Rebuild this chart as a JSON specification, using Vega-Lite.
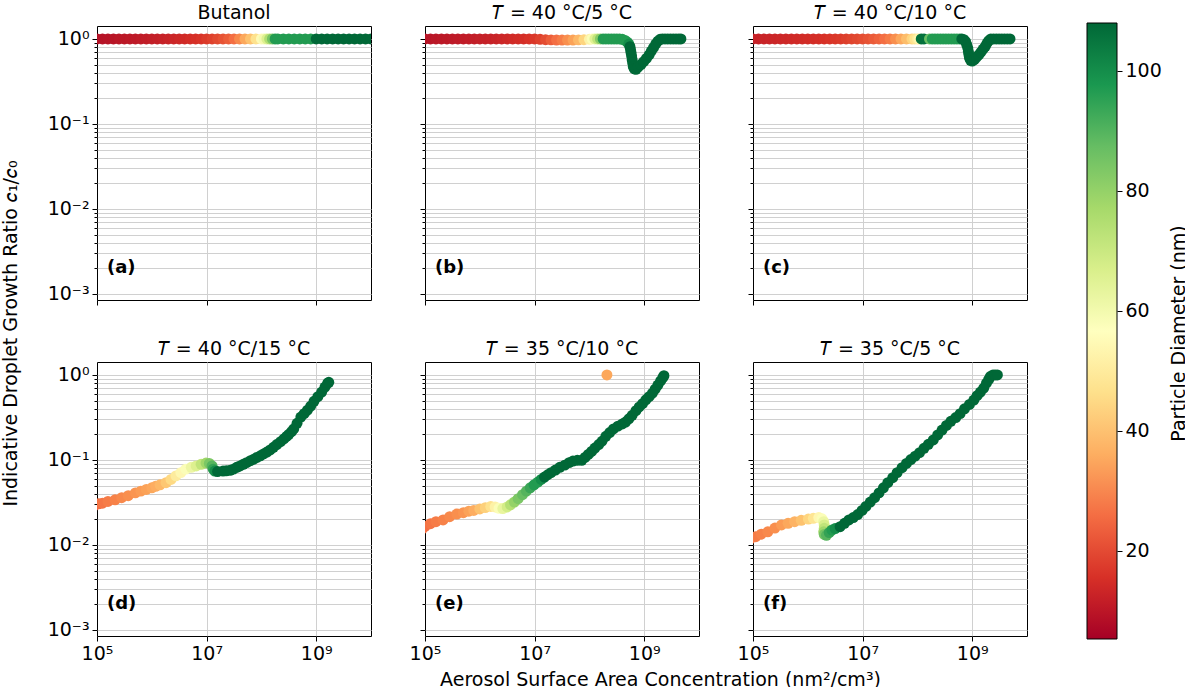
{
  "$schema": "https://vega.github.io/schema/vega-lite/v6.json",
  "padding": {"left": 0, "top": 0, "right": 0, "bottom": 0},
  "config": {
    "font": "DejaVu Sans",
    "view": {"stroke": "#000000", "strokeWidth": 1},
    "axis": {
      "domain": false,
      "grid": true,
      "gridColor": "#d0d0d0",
      "gridWidth": 1,
      "tickColor": "#000000",
      "tickWidth": 1,
      "labelFontSize": 19,
      "labelColor": "#000000",
      "labelPadding": 3,
      "labelOverlap": false,
      "labelFlush": false,
      "titleFontSize": 19,
      "titleFontWeight": "normal",
      "titleColor": "#000000"
    },
    "title": {"fontSize": 19, "fontWeight": "normal", "offset": 3, "color": "#000000", "frame": "group"}
  },
  "datasets": {
    "pts": [
      {"p":"a","x":7.943e4,"y":1,"d":8.5},{"p":"a","x":1e5,"y":1,"d":8.5},{"p":"a","x":1.259e5,"y":1,"d":8.7},{"p":"a","x":1.585e5,"y":1,"d":9},
      {"p":"a","x":1.995e5,"y":1,"d":9.2},{"p":"a","x":2.512e5,"y":1,"d":9.5},{"p":"a","x":3.162e5,"y":1,"d":9.8},{"p":"a","x":3.981e5,"y":1,"d":10},
      {"p":"a","x":5.012e5,"y":1,"d":10.3},{"p":"a","x":6.31e5,"y":1,"d":10.6},{"p":"a","x":7.943e5,"y":1,"d":11},{"p":"a","x":1e6,"y":1,"d":11.3},
      {"p":"a","x":1.259e6,"y":1,"d":11.7},{"p":"a","x":1.585e6,"y":1,"d":12},{"p":"a","x":1.995e6,"y":1,"d":12.5},{"p":"a","x":2.512e6,"y":1,"d":13},
      {"p":"a","x":3.162e6,"y":1,"d":13.5},{"p":"a","x":3.981e6,"y":1,"d":14},{"p":"a","x":5.012e6,"y":1,"d":14.7},{"p":"a","x":6.31e6,"y":1,"d":15.3},
      {"p":"a","x":7.943e6,"y":1,"d":16},{"p":"a","x":1e7,"y":1,"d":17},{"p":"a","x":1.259e7,"y":1,"d":18},{"p":"a","x":1.585e7,"y":1,"d":19.5},
      {"p":"a","x":1.995e7,"y":1,"d":21},{"p":"a","x":2.512e7,"y":1,"d":23},{"p":"a","x":3.162e7,"y":1,"d":26},{"p":"a","x":3.981e7,"y":1,"d":30},
      {"p":"a","x":5.012e7,"y":1,"d":35},{"p":"a","x":6.31e7,"y":1,"d":40},{"p":"a","x":7.943e7,"y":1,"d":47},{"p":"a","x":1e8,"y":1,"d":55},
      {"p":"a","x":1.122e8,"y":1,"d":60},{"p":"a","x":1.259e8,"y":1,"d":66},{"p":"a","x":1.413e8,"y":1,"d":75},{"p":"a","x":1.585e8,"y":1,"d":85},
      {"p":"a","x":1.778e8,"y":1,"d":97},{"p":"a","x":1.995e8,"y":1,"d":97},{"p":"a","x":2.512e8,"y":1,"d":97},{"p":"a","x":3.162e8,"y":1,"d":97},
      {"p":"a","x":3.981e8,"y":1,"d":97},{"p":"a","x":5.012e8,"y":1,"d":97},{"p":"a","x":6.31e8,"y":1,"d":97},{"p":"a","x":7.943e8,"y":1,"d":97},
      {"p":"a","x":1e9,"y":1,"d":108},{"p":"a","x":1.259e9,"y":1,"d":108},{"p":"a","x":1.585e9,"y":1,"d":108},{"p":"a","x":1.995e9,"y":1,"d":108},
      {"p":"a","x":2.512e9,"y":1,"d":108},{"p":"a","x":3.162e9,"y":1,"d":108},{"p":"a","x":3.981e9,"y":1,"d":108},{"p":"a","x":5.012e9,"y":1,"d":108},
      {"p":"a","x":6.31e9,"y":1,"d":108},{"p":"a","x":7.943e9,"y":1,"d":108},{"p":"a","x":1e10,"y":1,"d":108},{"p":"a","x":1.259e10,"y":1,"d":108},

      {"p":"b","x":7.943e4,"y":1,"d":9},{"p":"b","x":1e5,"y":1,"d":9},{"p":"b","x":1.259e5,"y":1,"d":9.2},{"p":"b","x":1.585e5,"y":1,"d":9.5},
      {"p":"b","x":1.995e5,"y":1,"d":9.7},{"p":"b","x":2.512e5,"y":1,"d":10},{"p":"b","x":3.162e5,"y":1,"d":10.2},{"p":"b","x":3.981e5,"y":1,"d":10.5},
      {"p":"b","x":5.012e5,"y":1,"d":10.7},{"p":"b","x":6.31e5,"y":1,"d":11},{"p":"b","x":7.943e5,"y":1,"d":11.2},{"p":"b","x":1e6,"y":1,"d":11.5},
      {"p":"b","x":1.259e6,"y":1,"d":11.8},{"p":"b","x":1.585e6,"y":1,"d":12},{"p":"b","x":1.995e6,"y":1,"d":12.5},{"p":"b","x":2.512e6,"y":1,"d":13},
      {"p":"b","x":3.162e6,"y":1,"d":13.5},{"p":"b","x":3.981e6,"y":1,"d":14},{"p":"b","x":5.012e6,"y":1,"d":14.5},{"p":"b","x":6.31e6,"y":1,"d":15},
      {"p":"b","x":7.943e6,"y":1,"d":15.8},{"p":"b","x":1e7,"y":1,"d":16.5},{"p":"b","x":1.259e7,"y":0.99,"d":18},{"p":"b","x":1.585e7,"y":0.98,"d":20},
      {"p":"b","x":1.995e7,"y":0.975,"d":23},{"p":"b","x":2.512e7,"y":0.97,"d":26},{"p":"b","x":3.162e7,"y":0.97,"d":28},{"p":"b","x":3.981e7,"y":0.97,"d":31},
      {"p":"b","x":5.012e7,"y":0.97,"d":34},{"p":"b","x":6.31e7,"y":0.975,"d":38},{"p":"b","x":7.943e7,"y":0.98,"d":44},{"p":"b","x":1e8,"y":0.99,"d":52},
      {"p":"b","x":1.122e8,"y":1,"d":58},{"p":"b","x":1.259e8,"y":1,"d":65},{"p":"b","x":1.413e8,"y":1,"d":72},{"p":"b","x":1.585e8,"y":1,"d":82},
      {"p":"b","x":1.778e8,"y":1,"d":97},{"p":"b","x":1.995e8,"y":1,"d":97},{"p":"b","x":2.239e8,"y":1,"d":97},{"p":"b","x":2.512e8,"y":1,"d":97},
      {"p":"b","x":2.818e8,"y":1,"d":97},{"p":"b","x":3.162e8,"y":1,"d":97},{"p":"b","x":3.548e8,"y":1,"d":97},{"p":"b","x":3.981e8,"y":0.99,"d":97},
      {"p":"b","x":4.467e8,"y":0.96,"d":97},{"p":"b","x":4.898e8,"y":0.92,"d":97},{"p":"b","x":5.248e8,"y":0.87,"d":100},{"p":"b","x":5.495e8,"y":0.81,"d":108},
      {"p":"b","x":5.623e8,"y":0.75,"d":108},{"p":"b","x":5.754e8,"y":0.69,"d":108},{"p":"b","x":5.888e8,"y":0.63,"d":108},{"p":"b","x":6.026e8,"y":0.57,"d":108},
      {"p":"b","x":6.166e8,"y":0.52,"d":108},{"p":"b","x":6.31e8,"y":0.475,"d":108},{"p":"b","x":6.607e8,"y":0.445,"d":108},{"p":"b","x":7.079e8,"y":0.44,"d":108},
      {"p":"b","x":7.762e8,"y":0.465,"d":108},{"p":"b","x":8.71e8,"y":0.5,"d":108},{"p":"b","x":9.772e8,"y":0.54,"d":108},{"p":"b","x":1.096e9,"y":0.59,"d":108},
      {"p":"b","x":1.23e9,"y":0.65,"d":108},{"p":"b","x":1.349e9,"y":0.72,"d":108},{"p":"b","x":1.479e9,"y":0.79,"d":108},{"p":"b","x":1.622e9,"y":0.87,"d":108},
      {"p":"b","x":1.778e9,"y":0.94,"d":108},{"p":"b","x":1.95e9,"y":0.99,"d":108},{"p":"b","x":2.138e9,"y":1,"d":108},{"p":"b","x":2.399e9,"y":1,"d":108},
      {"p":"b","x":2.692e9,"y":1,"d":108},{"p":"b","x":3.02e9,"y":1,"d":108},{"p":"b","x":3.388e9,"y":1,"d":108},{"p":"b","x":3.802e9,"y":1,"d":108},
      {"p":"b","x":4.266e9,"y":1,"d":108},{"p":"b","x":4.677e9,"y":1,"d":108},

      {"p":"c","x":7.943e4,"y":1,"d":12},{"p":"c","x":1e5,"y":1,"d":12},{"p":"c","x":1.259e5,"y":1,"d":12.2},{"p":"c","x":1.585e5,"y":1,"d":12.5},
      {"p":"c","x":1.995e5,"y":1,"d":12.7},{"p":"c","x":2.512e5,"y":1,"d":13},{"p":"c","x":3.162e5,"y":1,"d":13.2},{"p":"c","x":3.981e5,"y":1,"d":13.5},
      {"p":"c","x":5.012e5,"y":1,"d":13.7},{"p":"c","x":6.31e5,"y":1,"d":14},{"p":"c","x":7.943e5,"y":1,"d":14.2},{"p":"c","x":1e6,"y":1,"d":14.5},
      {"p":"c","x":1.259e6,"y":1,"d":14.8},{"p":"c","x":1.585e6,"y":1,"d":15},{"p":"c","x":1.995e6,"y":1,"d":15.5},{"p":"c","x":2.512e6,"y":1,"d":16},
      {"p":"c","x":3.162e6,"y":1,"d":16.5},{"p":"c","x":3.981e6,"y":1,"d":17},{"p":"c","x":5.012e6,"y":1,"d":17.7},{"p":"c","x":6.31e6,"y":1,"d":18.5},
      {"p":"c","x":7.943e6,"y":1,"d":19.2},{"p":"c","x":1e7,"y":1,"d":20},{"p":"c","x":1.259e7,"y":1,"d":21},{"p":"c","x":1.585e7,"y":1,"d":22.5},
      {"p":"c","x":1.995e7,"y":1,"d":24},{"p":"c","x":2.512e7,"y":1,"d":26},{"p":"c","x":3.162e7,"y":1,"d":28},{"p":"c","x":3.981e7,"y":1,"d":31},
      {"p":"c","x":5.012e7,"y":1,"d":35},{"p":"c","x":6.31e7,"y":1,"d":39},{"p":"c","x":7.943e7,"y":1,"d":44},{"p":"c","x":8.913e7,"y":1,"d":47},
      {"p":"c","x":1e8,"y":1,"d":50},{"p":"c","x":1.072e8,"y":1,"d":53},{"p":"c","x":1.175e8,"y":1,"d":106},{"p":"c","x":1.318e8,"y":1,"d":106},
      {"p":"c","x":1.66e8,"y":1,"d":87},{"p":"c","x":1.862e8,"y":1,"d":97},{"p":"c","x":2.089e8,"y":1,"d":97},{"p":"c","x":2.344e8,"y":1,"d":97},
      {"p":"c","x":2.63e8,"y":1,"d":97},{"p":"c","x":2.951e8,"y":1,"d":97},{"p":"c","x":3.311e8,"y":1,"d":97},{"p":"c","x":3.715e8,"y":1,"d":97},
      {"p":"c","x":4.169e8,"y":1,"d":97},{"p":"c","x":4.677e8,"y":1,"d":97},{"p":"c","x":5.248e8,"y":1,"d":97},{"p":"c","x":5.888e8,"y":1,"d":97},
      {"p":"c","x":6.457e8,"y":1,"d":108},{"p":"c","x":7.079e8,"y":0.98,"d":108},{"p":"c","x":7.586e8,"y":0.93,"d":108},{"p":"c","x":7.943e8,"y":0.86,"d":108},
      {"p":"c","x":8.318e8,"y":0.78,"d":108},{"p":"c","x":8.511e8,"y":0.71,"d":108},{"p":"c","x":8.71e8,"y":0.65,"d":108},{"p":"c","x":8.913e8,"y":0.6,"d":108},
      {"p":"c","x":9.333e8,"y":0.56,"d":108},{"p":"c","x":1e9,"y":0.55,"d":108},{"p":"c","x":1.096e9,"y":0.57,"d":108},{"p":"c","x":1.202e9,"y":0.61,"d":108},
      {"p":"c","x":1.318e9,"y":0.65,"d":108},{"p":"c","x":1.445e9,"y":0.7,"d":108},{"p":"c","x":1.585e9,"y":0.76,"d":108},{"p":"c","x":1.738e9,"y":0.82,"d":108},
      {"p":"c","x":1.862e9,"y":0.89,"d":108},{"p":"c","x":1.995e9,"y":0.95,"d":108},{"p":"c","x":2.188e9,"y":1,"d":108},{"p":"c","x":2.455e9,"y":1,"d":108},
      {"p":"c","x":2.754e9,"y":1,"d":108},{"p":"c","x":3.09e9,"y":1,"d":108},{"p":"c","x":3.467e9,"y":1,"d":108},{"p":"c","x":3.89e9,"y":1,"d":108},
      {"p":"c","x":4.365e9,"y":1,"d":108},{"p":"c","x":4.898e9,"y":1,"d":108},

      {"p":"d","x":8.913e4,"y":0.029,"d":25},{"p":"d","x":1.072e5,"y":0.0305,"d":26},{"p":"d","x":1.259e5,"y":0.031,"d":27},{"p":"d","x":1.585e5,"y":0.0325,"d":28},
      {"p":"d","x":2.138e5,"y":0.034,"d":29},{"p":"d","x":2.818e5,"y":0.036,"d":30},{"p":"d","x":3.715e5,"y":0.038,"d":31},{"p":"d","x":5.012e5,"y":0.041,"d":32},
      {"p":"d","x":6.31e5,"y":0.043,"d":33},{"p":"d","x":7.943e5,"y":0.045,"d":34},{"p":"d","x":1e6,"y":0.047,"d":35},{"p":"d","x":1.175e6,"y":0.049,"d":36},
      {"p":"d","x":1.413e6,"y":0.051,"d":38},{"p":"d","x":1.82e6,"y":0.054,"d":41},{"p":"d","x":2.239e6,"y":0.059,"d":45},{"p":"d","x":2.754e6,"y":0.065,"d":50},
      {"p":"d","x":3.388e6,"y":0.071,"d":54},{"p":"d","x":4.169e6,"y":0.078,"d":58},{"p":"d","x":5.248e6,"y":0.082,"d":62},{"p":"d","x":6.457e6,"y":0.085,"d":66},
      {"p":"d","x":7.943e6,"y":0.089,"d":72},{"p":"d","x":9.772e6,"y":0.092,"d":78},{"p":"d","x":1.122e7,"y":0.091,"d":84},{"p":"d","x":1.259e7,"y":0.085,"d":90},
      {"p":"d","x":1.318e7,"y":0.078,"d":95},{"p":"d","x":1.413e7,"y":0.074,"d":100},{"p":"d","x":1.585e7,"y":0.073,"d":108},{"p":"d","x":1.995e7,"y":0.074,"d":108},
      {"p":"d","x":2.291e7,"y":0.0745,"d":108},{"p":"d","x":2.692e7,"y":0.0755,"d":108},{"p":"d","x":3.09e7,"y":0.078,"d":108},{"p":"d","x":3.548e7,"y":0.082,"d":108},
      {"p":"d","x":4.074e7,"y":0.085,"d":108},{"p":"d","x":4.677e7,"y":0.089,"d":108},{"p":"d","x":5.37e7,"y":0.093,"d":108},{"p":"d","x":6.31e7,"y":0.098,"d":108},
      {"p":"d","x":7.244e7,"y":0.102,"d":108},{"p":"d","x":8.318e7,"y":0.107,"d":108},{"p":"d","x":9.55e7,"y":0.112,"d":108},{"p":"d","x":1.096e8,"y":0.118,"d":108},
      {"p":"d","x":1.259e8,"y":0.124,"d":108},{"p":"d","x":1.445e8,"y":0.131,"d":108},{"p":"d","x":1.66e8,"y":0.141,"d":108},{"p":"d","x":1.905e8,"y":0.152,"d":108},
      {"p":"d","x":2.239e8,"y":0.164,"d":108},{"p":"d","x":2.57e8,"y":0.177,"d":108},{"p":"d","x":2.884e8,"y":0.189,"d":108},{"p":"d","x":3.162e8,"y":0.2,"d":108},
      {"p":"d","x":3.548e8,"y":0.215,"d":108},{"p":"d","x":3.89e8,"y":0.232,"d":108},{"p":"d","x":4.467e8,"y":0.27,"d":108},{"p":"d","x":5.248e8,"y":0.32,"d":108},
      {"p":"d","x":6.026e8,"y":0.35,"d":108},{"p":"d","x":6.918e8,"y":0.385,"d":108},{"p":"d","x":7.943e8,"y":0.43,"d":108},{"p":"d","x":9.12e8,"y":0.49,"d":108},
      {"p":"d","x":1.072e9,"y":0.555,"d":108},{"p":"d","x":1.259e9,"y":0.63,"d":108},{"p":"d","x":1.445e9,"y":0.72,"d":108},{"p":"d","x":1.622e9,"y":0.8,"d":108},
      {"p":"d","x":1.698e9,"y":0.82,"d":108},

      {"p":"e","x":8.913e4,"y":0.0155,"d":26},{"p":"e","x":1e5,"y":0.0165,"d":26},{"p":"e","x":1.259e5,"y":0.0178,"d":27},{"p":"e","x":1.585e5,"y":0.0188,"d":28},
      {"p":"e","x":2.138e5,"y":0.0197,"d":29},{"p":"e","x":2.818e5,"y":0.0215,"d":30},{"p":"e","x":3.802e5,"y":0.0231,"d":31},{"p":"e","x":5.012e5,"y":0.024,"d":32},
      {"p":"e","x":6.31e5,"y":0.025,"d":34},{"p":"e","x":7.762e5,"y":0.0255,"d":36},{"p":"e","x":1e6,"y":0.0265,"d":40},{"p":"e","x":1.259e6,"y":0.0275,"d":43},
      {"p":"e","x":1.585e6,"y":0.0284,"d":47},{"p":"e","x":1.905e6,"y":0.028,"d":52},{"p":"e","x":2.239e6,"y":0.027,"d":58},{"p":"e","x":2.63e6,"y":0.0268,"d":63},
      {"p":"e","x":3.162e6,"y":0.028,"d":68},{"p":"e","x":3.631e6,"y":0.0297,"d":74},{"p":"e","x":4.266e6,"y":0.032,"d":80},{"p":"e","x":5.012e6,"y":0.035,"d":84},
      {"p":"e","x":6.026e6,"y":0.039,"d":87},{"p":"e","x":7.079e6,"y":0.043,"d":90},{"p":"e","x":8.318e6,"y":0.047,"d":94},{"p":"e","x":9.772e6,"y":0.051,"d":97},
      {"p":"e","x":1.148e7,"y":0.055,"d":97},{"p":"e","x":1.318e7,"y":0.059,"d":100},{"p":"e","x":1.514e7,"y":0.063,"d":108},{"p":"e","x":1.738e7,"y":0.067,"d":108},
      {"p":"e","x":1.995e7,"y":0.071,"d":108},{"p":"e","x":2.399e7,"y":0.076,"d":108},{"p":"e","x":2.884e7,"y":0.082,"d":108},{"p":"e","x":3.548e7,"y":0.087,"d":108},
      {"p":"e","x":4.266e7,"y":0.093,"d":108},{"p":"e","x":5.012e7,"y":0.097,"d":108},{"p":"e","x":6.026e7,"y":0.099,"d":108},{"p":"e","x":7.244e7,"y":0.099,"d":108},
      {"p":"e","x":8.318e7,"y":0.107,"d":108},{"p":"e","x":9.55e7,"y":0.116,"d":108},{"p":"e","x":1.096e8,"y":0.126,"d":108},{"p":"e","x":1.259e8,"y":0.138,"d":108},
      {"p":"e","x":1.479e8,"y":0.152,"d":108},{"p":"e","x":1.698e8,"y":0.166,"d":108},{"p":"e","x":1.995e8,"y":0.19,"d":108},{"p":"e","x":2.344e8,"y":0.21,"d":108},
      {"p":"e","x":2.754e8,"y":0.232,"d":108},{"p":"e","x":3.311e8,"y":0.25,"d":108},{"p":"e","x":3.981e8,"y":0.265,"d":108},{"p":"e","x":4.571e8,"y":0.279,"d":108},
      {"p":"e","x":5.248e8,"y":0.305,"d":108},{"p":"e","x":6.026e8,"y":0.335,"d":108},{"p":"e","x":7.079e8,"y":0.38,"d":108},{"p":"e","x":8.128e8,"y":0.42,"d":108},
      {"p":"e","x":9.333e8,"y":0.46,"d":108},{"p":"e","x":1.072e9,"y":0.51,"d":108},{"p":"e","x":1.23e9,"y":0.555,"d":108},{"p":"e","x":1.413e9,"y":0.61,"d":108},
      {"p":"e","x":1.585e9,"y":0.68,"d":108},{"p":"e","x":1.778e9,"y":0.76,"d":108},{"p":"e","x":1.995e9,"y":0.85,"d":108},{"p":"e","x":2.188e9,"y":0.93,"d":108},
      {"p":"e","x":2.291e9,"y":0.98,"d":108},{"p":"e","x":2.089e8,"y":1,"d":35},

      {"p":"f","x":8.913e4,"y":0.0118,"d":27},{"p":"f","x":1.122e5,"y":0.0125,"d":28},{"p":"f","x":1.413e5,"y":0.0134,"d":29},{"p":"f","x":1.862e5,"y":0.0143,"d":30},
      {"p":"f","x":2.512e5,"y":0.0158,"d":31},{"p":"f","x":3.311e5,"y":0.0172,"d":33},{"p":"f","x":4.365e5,"y":0.018,"d":35},{"p":"f","x":5.754e5,"y":0.0188,"d":37},
      {"p":"f","x":7.586e5,"y":0.0195,"d":40},{"p":"f","x":1.023e6,"y":0.0202,"d":44},{"p":"f","x":1.259e6,"y":0.0206,"d":48},{"p":"f","x":1.585e6,"y":0.021,"d":54},
      {"p":"f","x":1.82e6,"y":0.0203,"d":58},{"p":"f","x":1.95e6,"y":0.0188,"d":62},{"p":"f","x":1.995e6,"y":0.0172,"d":67},{"p":"f","x":1.995e6,"y":0.0157,"d":72},
      {"p":"f","x":1.95e6,"y":0.0143,"d":78},{"p":"f","x":1.995e6,"y":0.0133,"d":85},{"p":"f","x":2.188e6,"y":0.013,"d":90},{"p":"f","x":2.455e6,"y":0.014,"d":95},
      {"p":"f","x":2.754e6,"y":0.015,"d":97},{"p":"f","x":3.162e6,"y":0.0156,"d":100},{"p":"f","x":3.89e6,"y":0.0164,"d":108},{"p":"f","x":4.677e6,"y":0.018,"d":108},
      {"p":"f","x":5.623e6,"y":0.0197,"d":108},{"p":"f","x":6.761e6,"y":0.021,"d":108},{"p":"f","x":8.128e6,"y":0.0228,"d":108},{"p":"f","x":9.772e6,"y":0.0255,"d":108},
      {"p":"f","x":1.148e7,"y":0.0284,"d":108},{"p":"f","x":1.38e7,"y":0.032,"d":108},{"p":"f","x":1.66e7,"y":0.036,"d":108},{"p":"f","x":1.995e7,"y":0.041,"d":108},
      {"p":"f","x":2.399e7,"y":0.047,"d":108},{"p":"f","x":2.884e7,"y":0.054,"d":108},{"p":"f","x":3.548e7,"y":0.0618,"d":108},{"p":"f","x":4.266e7,"y":0.071,"d":108},
      {"p":"f","x":5.248e7,"y":0.081,"d":108},{"p":"f","x":6.31e7,"y":0.091,"d":108},{"p":"f","x":7.586e7,"y":0.101,"d":108},{"p":"f","x":9.12e7,"y":0.111,"d":108},
      {"p":"f","x":1.096e8,"y":0.122,"d":108},{"p":"f","x":1.318e8,"y":0.137,"d":108},{"p":"f","x":1.585e8,"y":0.153,"d":108},{"p":"f","x":1.95e8,"y":0.172,"d":108},
      {"p":"f","x":2.344e8,"y":0.197,"d":108},{"p":"f","x":2.818e8,"y":0.225,"d":108},{"p":"f","x":3.388e8,"y":0.255,"d":108},{"p":"f","x":4.074e8,"y":0.285,"d":108},
      {"p":"f","x":5.012e8,"y":0.315,"d":108},{"p":"f","x":6.026e8,"y":0.351,"d":108},{"p":"f","x":7.244e8,"y":0.4,"d":108},{"p":"f","x":8.913e8,"y":0.45,"d":108},
      {"p":"f","x":1.072e9,"y":0.506,"d":108},{"p":"f","x":1.23e9,"y":0.57,"d":108},{"p":"f","x":1.413e9,"y":0.63,"d":108},{"p":"f","x":1.622e9,"y":0.7,"d":108},
      {"p":"f","x":1.82e9,"y":0.8,"d":108},{"p":"f","x":1.995e9,"y":0.88,"d":108},{"p":"f","x":2.138e9,"y":0.957,"d":108},{"p":"f","x":2.399e9,"y":1,"d":108},
      {"p":"f","x":2.63e9,"y":1,"d":108},{"p":"f","x":2.884e9,"y":1,"d":108}
    ]
  },
  "spacing": 58,
  "hconcat": [
    {
      "columns": 3,
      "spacing": {"row": 62, "column": 54},
      "bounds": "flush",
      "resolve": {"scale": {"color": "shared"}},
      "concat": [
        {
          "title": "Butanol",
          "width": 274, "height": 274,
          "encoding": {
            "x": {"field": "x", "type": "quantitative", "scale": {"type": "log", "domain": [100000, 10000000000], "nice": false},
              "axis": {"values": [100000, 10000000, 1000000000], "labels": false, "tickSize": 5, "title": null,
                "gridOpacity": {"condition": {"test": "datum.value < 200000", "value": 0}, "value": 1}}},
            "y": {"field": "y", "type": "quantitative", "scale": {"type": "log", "domain": [0.00085, 1.42], "nice": false},
              "axis": {"values": [0.001,0.002,0.003,0.004,0.005,0.006,0.007,0.008,0.009,0.01,0.02,0.03,0.04,0.05,0.06,0.07,0.08,0.09,0.1,0.2,0.3,0.4,0.5,0.6,0.7,0.8,0.9,1],
                "labelExpr": "datum.value == 1 ? '10⁰' : datum.value == 0.1 ? '10⁻¹' : datum.value == 0.01 ? '10⁻²' : datum.value == 0.001 ? '10⁻³' : ''",
                "tickSize": {"condition": {"test": "datum.value == 1 || datum.value == 0.1 || datum.value == 0.01 || datum.value == 0.001", "value": 5}, "value": 3},
                "title": "Indicative Droplet Growth Ratio 𝑐₁/𝑐₀", "titleX": -77, "titleY": 307, "titleAngle": 270, "titleAlign": "center", "titleBaseline": "bottom"}}
          },
          "layer": [
            {"data": {"name": "pts"}, "transform": [{"filter": "datum.p == 'a'"}],
              "mark": {"type": "circle", "size": 120, "opacity": 1, "clip": true},
              "encoding": {"color": {"field": "d", "type": "quantitative", "legend": null,
                "scale": {"domain": [5.3, 15.57, 25.84, 36.11, 46.38, 56.65, 66.92, 77.19, 87.46, 97.73, 108], "range": ["#a50026", "#d73027", "#f46d43", "#fdae61", "#fee08b", "#ffffbf", "#d9ef8b", "#a6d96a", "#66bd63", "#1a9850", "#006837"]}}}},
            {"data": {"values": [{"x": 152000, "y": 0.002, "t": "(a)"}]},
              "mark": {"type": "text", "align": "left", "baseline": "middle", "fontSize": 18, "fontWeight": "bold", "color": "#000000"},
              "encoding": {"text": {"field": "t"}}}
          ]
        },
        {
          "title": "𝑇 = 40 °C/5 °C",
          "width": 274, "height": 274,
          "encoding": {
            "x": {"field": "x", "type": "quantitative", "scale": {"type": "log", "domain": [100000, 10000000000], "nice": false},
              "axis": {"values": [100000, 10000000, 1000000000], "labels": false, "tickSize": 5, "title": null,
                "gridOpacity": {"condition": {"test": "datum.value < 200000", "value": 0}, "value": 1}}},
            "y": {"field": "y", "type": "quantitative", "scale": {"type": "log", "domain": [0.00085, 1.42], "nice": false},
              "axis": {"values": [0.001,0.002,0.003,0.004,0.005,0.006,0.007,0.008,0.009,0.01,0.02,0.03,0.04,0.05,0.06,0.07,0.08,0.09,0.1,0.2,0.3,0.4,0.5,0.6,0.7,0.8,0.9,1],
                "labels": false,
                "tickSize": {"condition": {"test": "datum.value == 1 || datum.value == 0.1 || datum.value == 0.01 || datum.value == 0.001", "value": 5}, "value": 3},
                "title": null}}
          },
          "layer": [
            {"data": {"name": "pts"}, "transform": [{"filter": "datum.p == 'b'"}],
              "mark": {"type": "circle", "size": 120, "opacity": 1, "clip": true},
              "encoding": {"color": {"field": "d", "type": "quantitative", "legend": null,
                "scale": {"domain": [5.3, 15.57, 25.84, 36.11, 46.38, 56.65, 66.92, 77.19, 87.46, 97.73, 108], "range": ["#a50026", "#d73027", "#f46d43", "#fdae61", "#fee08b", "#ffffbf", "#d9ef8b", "#a6d96a", "#66bd63", "#1a9850", "#006837"]}}}},
            {"data": {"values": [{"x": 152000, "y": 0.002, "t": "(b)"}]},
              "mark": {"type": "text", "align": "left", "baseline": "middle", "fontSize": 18, "fontWeight": "bold", "color": "#000000"},
              "encoding": {"text": {"field": "t"}}}
          ]
        },
        {
          "title": "𝑇 = 40 °C/10 °C",
          "width": 274, "height": 274,
          "encoding": {
            "x": {"field": "x", "type": "quantitative", "scale": {"type": "log", "domain": [100000, 10000000000], "nice": false},
              "axis": {"values": [100000, 10000000, 1000000000], "labels": false, "tickSize": 5, "title": null,
                "gridOpacity": {"condition": {"test": "datum.value < 200000", "value": 0}, "value": 1}}},
            "y": {"field": "y", "type": "quantitative", "scale": {"type": "log", "domain": [0.00085, 1.42], "nice": false},
              "axis": {"values": [0.001,0.002,0.003,0.004,0.005,0.006,0.007,0.008,0.009,0.01,0.02,0.03,0.04,0.05,0.06,0.07,0.08,0.09,0.1,0.2,0.3,0.4,0.5,0.6,0.7,0.8,0.9,1],
                "labels": false,
                "tickSize": {"condition": {"test": "datum.value == 1 || datum.value == 0.1 || datum.value == 0.01 || datum.value == 0.001", "value": 5}, "value": 3},
                "title": null}}
          },
          "layer": [
            {"data": {"name": "pts"}, "transform": [{"filter": "datum.p == 'c'"}],
              "mark": {"type": "circle", "size": 120, "opacity": 1, "clip": true},
              "encoding": {"color": {"field": "d", "type": "quantitative", "legend": null,
                "scale": {"domain": [5.3, 15.57, 25.84, 36.11, 46.38, 56.65, 66.92, 77.19, 87.46, 97.73, 108], "range": ["#a50026", "#d73027", "#f46d43", "#fdae61", "#fee08b", "#ffffbf", "#d9ef8b", "#a6d96a", "#66bd63", "#1a9850", "#006837"]}}}},
            {"data": {"values": [{"x": 152000, "y": 0.002, "t": "(c)"}]},
              "mark": {"type": "text", "align": "left", "baseline": "middle", "fontSize": 18, "fontWeight": "bold", "color": "#000000"},
              "encoding": {"text": {"field": "t"}}}
          ]
        },
        {
          "title": "𝑇 = 40 °C/15 °C",
          "width": 274, "height": 274,
          "encoding": {
            "x": {"field": "x", "type": "quantitative", "scale": {"type": "log", "domain": [100000, 10000000000], "nice": false},
              "axis": {"values": [100000, 10000000, 1000000000], "tickSize": 5, "title": null,
                "labelExpr": "datum.value == 100000 ? '10⁵' : datum.value == 10000000 ? '10⁷' : '10⁹'",
                "gridOpacity": {"condition": {"test": "datum.value < 200000", "value": 0}, "value": 1}}},
            "y": {"field": "y", "type": "quantitative", "scale": {"type": "log", "domain": [0.00085, 1.42], "nice": false},
              "axis": {"values": [0.001,0.002,0.003,0.004,0.005,0.006,0.007,0.008,0.009,0.01,0.02,0.03,0.04,0.05,0.06,0.07,0.08,0.09,0.1,0.2,0.3,0.4,0.5,0.6,0.7,0.8,0.9,1],
                "labelExpr": "datum.value == 1 ? '10⁰' : datum.value == 0.1 ? '10⁻¹' : datum.value == 0.01 ? '10⁻²' : datum.value == 0.001 ? '10⁻³' : ''",
                "tickSize": {"condition": {"test": "datum.value == 1 || datum.value == 0.1 || datum.value == 0.01 || datum.value == 0.001", "value": 5}, "value": 3},
                "title": null}}
          },
          "layer": [
            {"data": {"name": "pts"}, "transform": [{"filter": "datum.p == 'd'"}],
              "mark": {"type": "circle", "size": 120, "opacity": 1, "clip": true},
              "encoding": {"color": {"field": "d", "type": "quantitative", "legend": null,
                "scale": {"domain": [5.3, 15.57, 25.84, 36.11, 46.38, 56.65, 66.92, 77.19, 87.46, 97.73, 108], "range": ["#a50026", "#d73027", "#f46d43", "#fdae61", "#fee08b", "#ffffbf", "#d9ef8b", "#a6d96a", "#66bd63", "#1a9850", "#006837"]}}}},
            {"data": {"values": [{"x": 152000, "y": 0.002, "t": "(d)"}]},
              "mark": {"type": "text", "align": "left", "baseline": "middle", "fontSize": 18, "fontWeight": "bold", "color": "#000000"},
              "encoding": {"text": {"field": "t"}}}
          ]
        },
        {
          "title": "𝑇 = 35 °C/10 °C",
          "width": 274, "height": 274,
          "encoding": {
            "x": {"field": "x", "type": "quantitative", "scale": {"type": "log", "domain": [100000, 10000000000], "nice": false},
              "axis": {"values": [100000, 10000000, 1000000000], "tickSize": 5,
                "labelExpr": "datum.value == 100000 ? '10⁵' : datum.value == 10000000 ? '10⁷' : '10⁹'",
                "title": "Aerosol Surface Area Concentration (nm²/cm³)", "titleX": 235, "titleY": 49, "titleBaseline": "alphabetic",
                "gridOpacity": {"condition": {"test": "datum.value < 200000", "value": 0}, "value": 1}}},
            "y": {"field": "y", "type": "quantitative", "scale": {"type": "log", "domain": [0.00085, 1.42], "nice": false},
              "axis": {"values": [0.001,0.002,0.003,0.004,0.005,0.006,0.007,0.008,0.009,0.01,0.02,0.03,0.04,0.05,0.06,0.07,0.08,0.09,0.1,0.2,0.3,0.4,0.5,0.6,0.7,0.8,0.9,1],
                "labels": false,
                "tickSize": {"condition": {"test": "datum.value == 1 || datum.value == 0.1 || datum.value == 0.01 || datum.value == 0.001", "value": 5}, "value": 3},
                "title": null}}
          },
          "layer": [
            {"data": {"name": "pts"}, "transform": [{"filter": "datum.p == 'e'"}],
              "mark": {"type": "circle", "size": 120, "opacity": 1, "clip": true},
              "encoding": {"color": {"field": "d", "type": "quantitative", "legend": null,
                "scale": {"domain": [5.3, 15.57, 25.84, 36.11, 46.38, 56.65, 66.92, 77.19, 87.46, 97.73, 108], "range": ["#a50026", "#d73027", "#f46d43", "#fdae61", "#fee08b", "#ffffbf", "#d9ef8b", "#a6d96a", "#66bd63", "#1a9850", "#006837"]}}}},
            {"data": {"values": [{"x": 152000, "y": 0.002, "t": "(e)"}]},
              "mark": {"type": "text", "align": "left", "baseline": "middle", "fontSize": 18, "fontWeight": "bold", "color": "#000000"},
              "encoding": {"text": {"field": "t"}}}
          ]
        },
        {
          "title": "𝑇 = 35 °C/5 °C",
          "width": 274, "height": 274,
          "encoding": {
            "x": {"field": "x", "type": "quantitative", "scale": {"type": "log", "domain": [100000, 10000000000], "nice": false},
              "axis": {"values": [100000, 10000000, 1000000000], "tickSize": 5, "title": null,
                "labelExpr": "datum.value == 100000 ? '10⁵' : datum.value == 10000000 ? '10⁷' : '10⁹'",
                "gridOpacity": {"condition": {"test": "datum.value < 200000", "value": 0}, "value": 1}}},
            "y": {"field": "y", "type": "quantitative", "scale": {"type": "log", "domain": [0.00085, 1.42], "nice": false},
              "axis": {"values": [0.001,0.002,0.003,0.004,0.005,0.006,0.007,0.008,0.009,0.01,0.02,0.03,0.04,0.05,0.06,0.07,0.08,0.09,0.1,0.2,0.3,0.4,0.5,0.6,0.7,0.8,0.9,1],
                "labels": false,
                "tickSize": {"condition": {"test": "datum.value == 1 || datum.value == 0.1 || datum.value == 0.01 || datum.value == 0.001", "value": 5}, "value": 3},
                "title": null}}
          },
          "layer": [
            {"data": {"name": "pts"}, "transform": [{"filter": "datum.p == 'f'"}],
              "mark": {"type": "circle", "size": 120, "opacity": 1, "clip": true},
              "encoding": {"color": {"field": "d", "type": "quantitative", "legend": null,
                "scale": {"domain": [5.3, 15.57, 25.84, 36.11, 46.38, 56.65, 66.92, 77.19, 87.46, 97.73, 108], "range": ["#a50026", "#d73027", "#f46d43", "#fdae61", "#fee08b", "#ffffbf", "#d9ef8b", "#a6d96a", "#66bd63", "#1a9850", "#006837"]}}}},
            {"data": {"values": [{"x": 152000, "y": 0.002, "t": "(f)"}]},
              "mark": {"type": "text", "align": "left", "baseline": "middle", "fontSize": 18, "fontWeight": "bold", "color": "#000000"},
              "encoding": {"text": {"field": "t"}}}
          ]
        }
      ]
    },
    {
      "title": " ",
      "width": 30,
      "height": 610,
      "view": {"stroke": null},
      "data": {"values": [{"lo": 5.3, "hi": 108}]},
      "mark": {
        "type": "rect",
        "clip": false,
        "stroke": "#000000",
        "strokeWidth": 1,
        "fill": {
          "gradient": "linear", "x1": 0, "y1": 1, "x2": 0, "y2": 0,
          "stops": [
            {"offset": 0, "color": "#a50026"}, {"offset": 0.1, "color": "#d73027"}, {"offset": 0.2, "color": "#f46d43"},
            {"offset": 0.3, "color": "#fdae61"}, {"offset": 0.4, "color": "#fee08b"}, {"offset": 0.5, "color": "#ffffbf"},
            {"offset": 0.6, "color": "#d9ef8b"}, {"offset": 0.7, "color": "#a6d96a"}, {"offset": 0.8, "color": "#66bd63"},
            {"offset": 0.9, "color": "#1a9850"}, {"offset": 1, "color": "#006837"}
          ]
        }
      },
      "encoding": {
        "y": {"field": "hi", "type": "quantitative", "scale": {"domain": [5.8, 107.5], "nice": false, "zero": false},
          "axis": {"orient": "right", "values": [20, 40, 60, 80, 100], "grid": false, "tickSize": 5,
            "title": "Particle Diameter (nm)", "titleAngle": 270, "titleX": 67, "titleY": 307, "titleAlign": "center", "titleBaseline": "alphabetic"}},
        "y2": {"field": "lo"}
      }
    }
  ]
}
